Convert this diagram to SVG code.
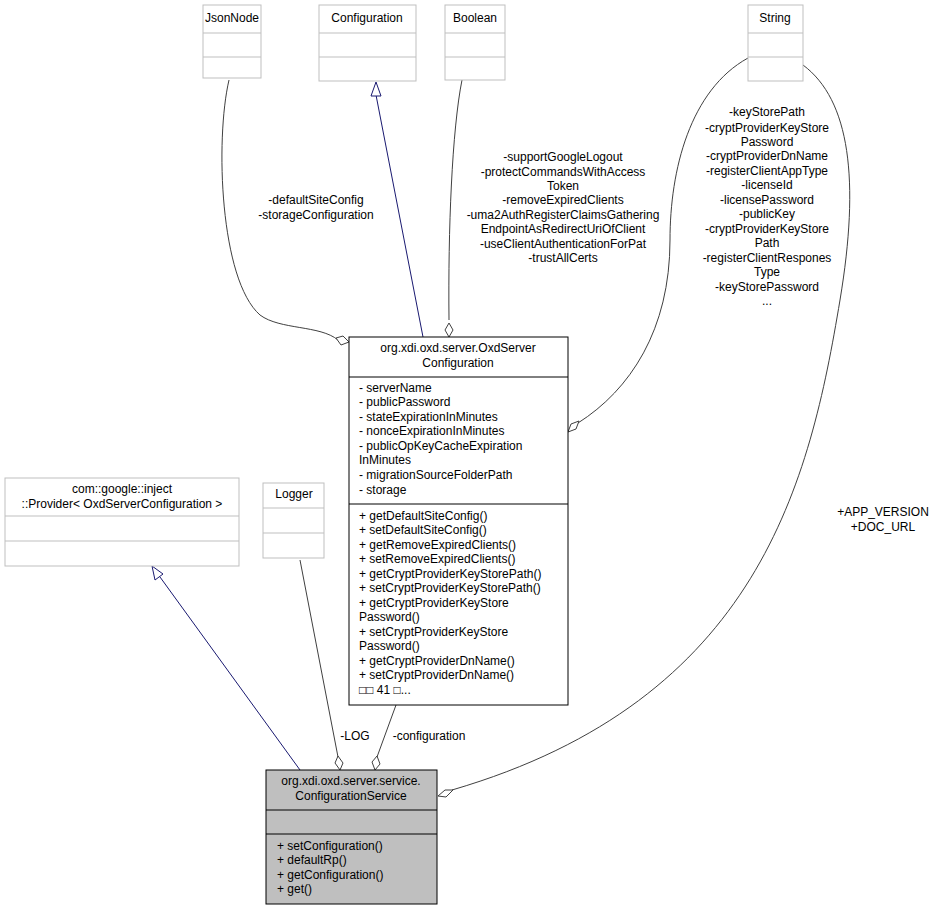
<svg xmlns="http://www.w3.org/2000/svg" width="940" height="911" viewBox="0 0 940 911">
<style>
text{font-family:"Liberation Sans",Arial,sans-serif;font-size:12px;fill:#000}
.m{text-anchor:middle}
.g{fill:#fff;stroke:#bfbfbf;stroke-width:1}
.b{fill:#fff;stroke:#000;stroke-width:1}
.s{fill:#bfbfbf;stroke:#000;stroke-width:1}
.e{fill:none;stroke:#404040;stroke-width:1}
.n{fill:none;stroke:#191970;stroke-width:1}
.d{fill:#fff;stroke:#404040}
.t{fill:#fff;stroke:#191970}
</style>
<g id="connectors">
<path class="e" d="M229,80 C215,140 220,280 260,315 C280,330 320,325 338,340"/>
<polygon class="d" points="349,342 343,336 336,338 341,345"/>
<path class="n" d="M423,337 L376,95"/>
<polygon class="t" points="376,82 371,96 381,96"/>
<path class="e" d="M462,80 C452,130 448,230 449,320"/>
<polygon class="d" points="449,337 445,330 449,323 453,330"/>
<path class="e" d="M748,58 C690,90 670,170 670,240 C670,330 630,390 578,423"/>
<polygon class="d" points="568,432 571,424 579,421 576,429"/>
<path class="e" d="M803,65 C850,100 860,180 840,300 C810,480 760,700 452,790"/>
<polygon class="d" points="438,796 445,790 453,790 446,797"/>
<path class="n" d="M300,770 L160,577"/>
<polygon class="t" points="152,566 155,580 163,574"/>
<path class="e" d="M300,560 L338,757"/>
<polygon class="d" points="340,770 335,763 338,756 343,763"/>
<path class="e" d="M396,705 L377,757"/>
<polygon class="d" points="375,770 372,762 377,756 380,764"/>
<text class="m" x="316" y="204">-defaultSiteConfig</text>
<text class="m" x="316" y="219">-storageConfiguration</text>
<text class="m" x="563" y="161">-supportGoogleLogout</text>
<text class="m" x="563" y="176">-protectCommandsWithAccess</text>
<text class="m" x="563" y="190">Token</text>
<text class="m" x="563" y="204">-removeExpiredClients</text>
<text class="m" x="563" y="219">-uma2AuthRegisterClaimsGathering</text>
<text class="m" x="563" y="233">EndpointAsRedirectUriOfClient</text>
<text class="m" x="563" y="248">-useClientAuthenticationForPat</text>
<text class="m" x="563" y="262">-trustAllCerts</text>
<text class="m" x="767" y="116">-keyStorePath</text>
<text class="m" x="767" y="132">-cryptProviderKeyStore</text>
<text class="m" x="767" y="146">Password</text>
<text class="m" x="767" y="160">-cryptProviderDnName</text>
<text class="m" x="767" y="175">-registerClientAppType</text>
<text class="m" x="767" y="189">-licenseId</text>
<text class="m" x="767" y="204">-licensePassword</text>
<text class="m" x="767" y="218">-publicKey</text>
<text class="m" x="767" y="233">-cryptProviderKeyStore</text>
<text class="m" x="767" y="247">Path</text>
<text class="m" x="767" y="262">-registerClientRespones</text>
<text class="m" x="767" y="276">Type</text>
<text class="m" x="767" y="291">-keyStorePassword</text>
<text class="m" x="767" y="305">...</text>
<text class="m" x="883" y="516">+APP_VERSION</text>
<text class="m" x="883" y="531">+DOC_URL</text>
<text class="m" x="355" y="740">-LOG</text>
<text class="m" x="429" y="740">-configuration</text>
</g>
<g id="JsonNode">
<rect class="g" x="203" y="5" width="58" height="73"/>
<line class="g" x1="203" y1="33" x2="261" y2="33"/><line class="g" x1="203" y1="57" x2="261" y2="57"/>
<text class="m" x="232" y="22">JsonNode</text>
</g>
<g id="Configuration">
<rect class="g" x="319" y="5" width="97" height="76"/>
<line class="g" x1="319" y1="33" x2="416" y2="33"/><line class="g" x1="319" y1="57" x2="416" y2="57"/>
<text class="m" x="367" y="22">Configuration</text>
</g>
<g id="Boolean">
<rect class="g" x="445" y="5" width="60" height="75"/>
<line class="g" x1="445" y1="33" x2="505" y2="33"/><line class="g" x1="445" y1="57" x2="505" y2="57"/>
<text class="m" x="475" y="22">Boolean</text>
</g>
<g id="String">
<rect class="g" x="748" y="5" width="55" height="76"/>
<line class="g" x1="748" y1="33" x2="803" y2="33"/><line class="g" x1="748" y1="57" x2="803" y2="57"/>
<text class="m" x="775" y="22">String</text>
</g>
<g id="OxdServerConfiguration">
<rect class="b" x="349" y="337" width="219" height="368"/>
<line class="b" x1="349" y1="377" x2="568" y2="377"/><line class="b" x1="349" y1="504" x2="568" y2="504"/>
<text class="m" x="458" y="352">org.xdi.oxd.server.OxdServer</text>
<text class="m" x="458" y="367">Configuration</text>
<text x="359" y="392">- serverName</text>
<text x="359" y="406">- publicPassword</text>
<text x="359" y="421">- stateExpirationInMinutes</text>
<text x="359" y="435">- nonceExpirationInMinutes</text>
<text x="359" y="450">- publicOpKeyCacheExpiration</text>
<text x="359" y="464">InMinutes</text>
<text x="359" y="479">- migrationSourceFolderPath</text>
<text x="359" y="494">- storage</text>
<text x="359" y="520">+ getDefaultSiteConfig()</text>
<text x="359" y="534">+ setDefaultSiteConfig()</text>
<text x="359" y="549">+ getRemoveExpiredClients()</text>
<text x="359" y="563">+ setRemoveExpiredClients()</text>
<text x="359" y="578">+ getCryptProviderKeyStorePath()</text>
<text x="359" y="592">+ setCryptProviderKeyStorePath()</text>
<text x="359" y="607">+ getCryptProviderKeyStore</text>
<text x="359" y="621">Password()</text>
<text x="359" y="636">+ setCryptProviderKeyStore</text>
<text x="359" y="650">Password()</text>
<text x="359" y="665">+ getCryptProviderDnName()</text>
<text x="359" y="679">+ setCryptProviderDnName()</text>
<text x="359" y="694">□□ 41 □...</text>
</g>
<g id="Provider">
<rect class="g" x="5" y="478" width="234" height="88"/>
<line class="g" x1="5" y1="516" x2="239" y2="516"/><line class="g" x1="5" y1="541" x2="239" y2="541"/>
<text class="m" x="122" y="493">com::google::inject</text>
<text class="m" x="122" y="508">::Provider&lt; OxdServerConfiguration &gt;</text>
</g>
<g id="Logger">
<rect class="g" x="263" y="483" width="61" height="75"/>
<line class="g" x1="263" y1="508" x2="324" y2="508"/><line class="g" x1="263" y1="533" x2="324" y2="533"/>
<text class="m" x="294" y="498">Logger</text>
</g>
<g id="ConfigurationService">
<rect class="s" x="266" y="770" width="171" height="134"/>
<line class="b" x1="266" y1="810" x2="437" y2="810"/><line class="b" x1="266" y1="834" x2="437" y2="834"/>
<text class="m" x="351" y="785">org.xdi.oxd.server.service.</text>
<text class="m" x="351" y="800">ConfigurationService</text>
<text x="277" y="850">+ setConfiguration()</text>
<text x="277" y="864">+ defaultRp()</text>
<text x="277" y="879">+ getConfiguration()</text>
<text x="277" y="893">+ get()</text>
</g>
</svg>
